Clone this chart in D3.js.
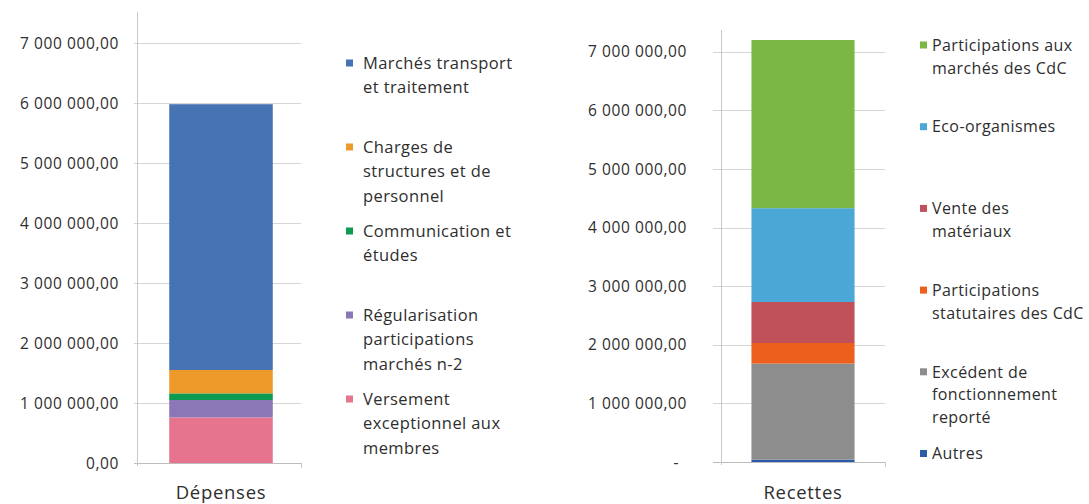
<!DOCTYPE html>
<html>
<head>
<meta charset="utf-8">
<script src="https://cdn.jsdelivr.net/npm/d3@7/dist/d3.min.js"></script>
<style>
  html, body { margin: 0; padding: 0; background: #fff; }
  svg { display: block; font-family: "Open Sans", "Noto Sans", sans-serif; }
</style>
</head>
<body>
<svg id="chart" width="1089" height="504"></svg>
<script>
// ---- Data (stack order: bottom segment first) ----
const yTicks = [0, 1000000, 2000000, 3000000, 4000000, 5000000, 6000000, 7000000];

const depCategory = "Dépenses";
const depSeries = [
  "Versement\nexceptionnel aux\nmembres",
  "Régularisation\nparticipations\nmarchés n-2",
  "Communication et\nétudes",
  "Charges de\nstructures et de\npersonnel",
  "Marchés transport\net traitement"
];
const depValues = [760000, 290000, 110000, 390000, 4430000];
const depColors = ["#e6748f", "#8b76b6", "#0c9b50", "#ee9a2a", "#4673b3"];

const recCategory = "Recettes";
const recSeries = [
  "Autres",
  "Excédent de\nfonctionnement\nreporté",
  "Participations\nstatutaires des CdC",
  "Vente des\nmatériaux",
  "Eco-organismes",
  "Participations aux\nmarchés des CdC"
];
const recValues = [40000, 1640000, 350000, 700000, 1600000, 2870000];
const recColors = ["#2a5aa8", "#8d8d8d", "#ec5f1c", "#c0505a", "#4ba8d6", "#7ab843"];

// French number format: "7 000 000,00"
const fr = d3.formatLocale({ decimal: ",", thousands: " ", grouping: [3], currency: ["", " €"] });
const fmt = fr.format(",.2f");

const svg = d3.select("#chart");
const textColor = "#2e2e2e";

function drawPanel(cfg) {
  const g = svg.append("g");
  const y = d3.scaleLinear().domain([0, 7000000]).range([cfg.yBottom, cfg.yTop]);
  const x = d3.scaleBand().domain([cfg.category]).range([cfg.axisX + cfg.bandShift, cfg.plotRight + cfg.bandShift]).padding(cfg.padding);

  // gridlines
  g.selectAll("line.grid").data(yTicks).join("line")
    .attr("x1", cfg.axisX - cfg.tickOut).attr("x2", cfg.plotRight)
    .attr("y1", d => Math.round(y(d)) + 0.5).attr("y2", d => Math.round(y(d)) + 0.5)
    .attr("stroke", d => d === 0 ? "#bdbdbd" : "#d6d6d6").attr("stroke-width", 1);

  // value axis line
  g.append("line")
    .attr("x1", cfg.axisX + 0.5).attr("x2", cfg.axisX + 0.5)
    .attr("y1", cfg.axisTop).attr("y2", Math.round(y(0)) + 3)
    .attr("stroke", "#c8c8c8");
  // end tick of category axis
  g.append("line")
    .attr("x1", cfg.plotRight + 0.5).attr("x2", cfg.plotRight + 0.5)
    .attr("y1", Math.round(y(0))).attr("y2", Math.round(y(0)) + 5)
    .attr("stroke", "#c8c8c8");

  // tick labels
  g.selectAll("text.tick").data(yTicks).join("text")
    .attr("x", d => d === 0 && cfg.zeroDash ? cfg.labelRight - 8 : cfg.labelRight)
    .attr("y", d => y(d)).attr("dy", "0.36em")
    .attr("text-anchor", "end")
    .attr("font-size", 15.5).attr("letter-spacing", 0.6).attr("fill", textColor)
    .text(d => d === 0 && cfg.zeroDash ? "-" : fmt(d));

  // stacked segments
  const row = {};
  cfg.series.forEach((s, i) => row[s] = cfg.values[i]);
  const stack = d3.stack().keys(cfg.series)([row]);
  g.selectAll("rect.seg").data(stack).join("rect")
    .attr("x", x(cfg.category))
    .attr("width", x.bandwidth())
    .attr("y", d => y(d[0][1]))
    .attr("height", d => y(d[0][0]) - y(d[0][1]))
    .attr("fill", (d, i) => cfg.colors[i]);

  // category label
  g.append("text")
    .attr("x", x(cfg.category) + x.bandwidth() / 2)
    .attr("y", cfg.catY).attr("dy", "0.36em")
    .attr("text-anchor", "middle")
    .attr("font-size", 18.5).attr("letter-spacing", 0.7).attr("fill", textColor)
    .text(cfg.category);

  // legend (top entry = top segment)
  const legendItems = cfg.series.map((s, i) => ({ label: s, color: cfg.colors[i] })).reverse();
  const lg = g.selectAll("g.leg").data(legendItems).join("g")
    .attr("transform", (d, i) => `translate(${cfg.legX},${cfg.legY0 + i * cfg.legStep})`);
  lg.append("rect")
    .attr("x", 0).attr("y", -3.5).attr("width", 7).attr("height", 7)
    .attr("fill", d => d.color);
  lg.append("text")
    .attr("font-size", cfg.legFont).attr("letter-spacing", 0.4).attr("fill", textColor)
    .selectAll("tspan").data(d => d.label.split("\n")).join("tspan")
    .attr("x", cfg.legTextDx)
    .attr("y", (d, i) => i * cfg.legLine)
    .attr("dy", "0.36em")
    .text(d => d);
}

drawPanel({
  category: depCategory, series: depSeries, values: depValues, colors: depColors,
  yBottom: 463, yTop: 43, axisX: 137, axisTop: 12, plotRight: 301, tickOut: 3,
  bandShift: 2, padding: 0.226, labelRight: 119, zeroDash: false, catY: 492,
  legX: 346, legY0: 63, legStep: 84, legTextDx: 17, legLine: 24.3, legFont: 16.5
});

drawPanel({
  category: recCategory, series: recSeries, values: recValues, colors: recColors,
  yBottom: 462, yTop: 51.7, axisX: 721, axisTop: 30, plotRight: 885, tickOut: 8,
  bandShift: 0, padding: 0.228, labelRight: 687, zeroDash: true, catY: 492,
  legX: 920, legY0: 45, legStep: 81.7, legTextDx: 12, legLine: 22.8, legFont: 16
});
</script>
</body>
</html>
